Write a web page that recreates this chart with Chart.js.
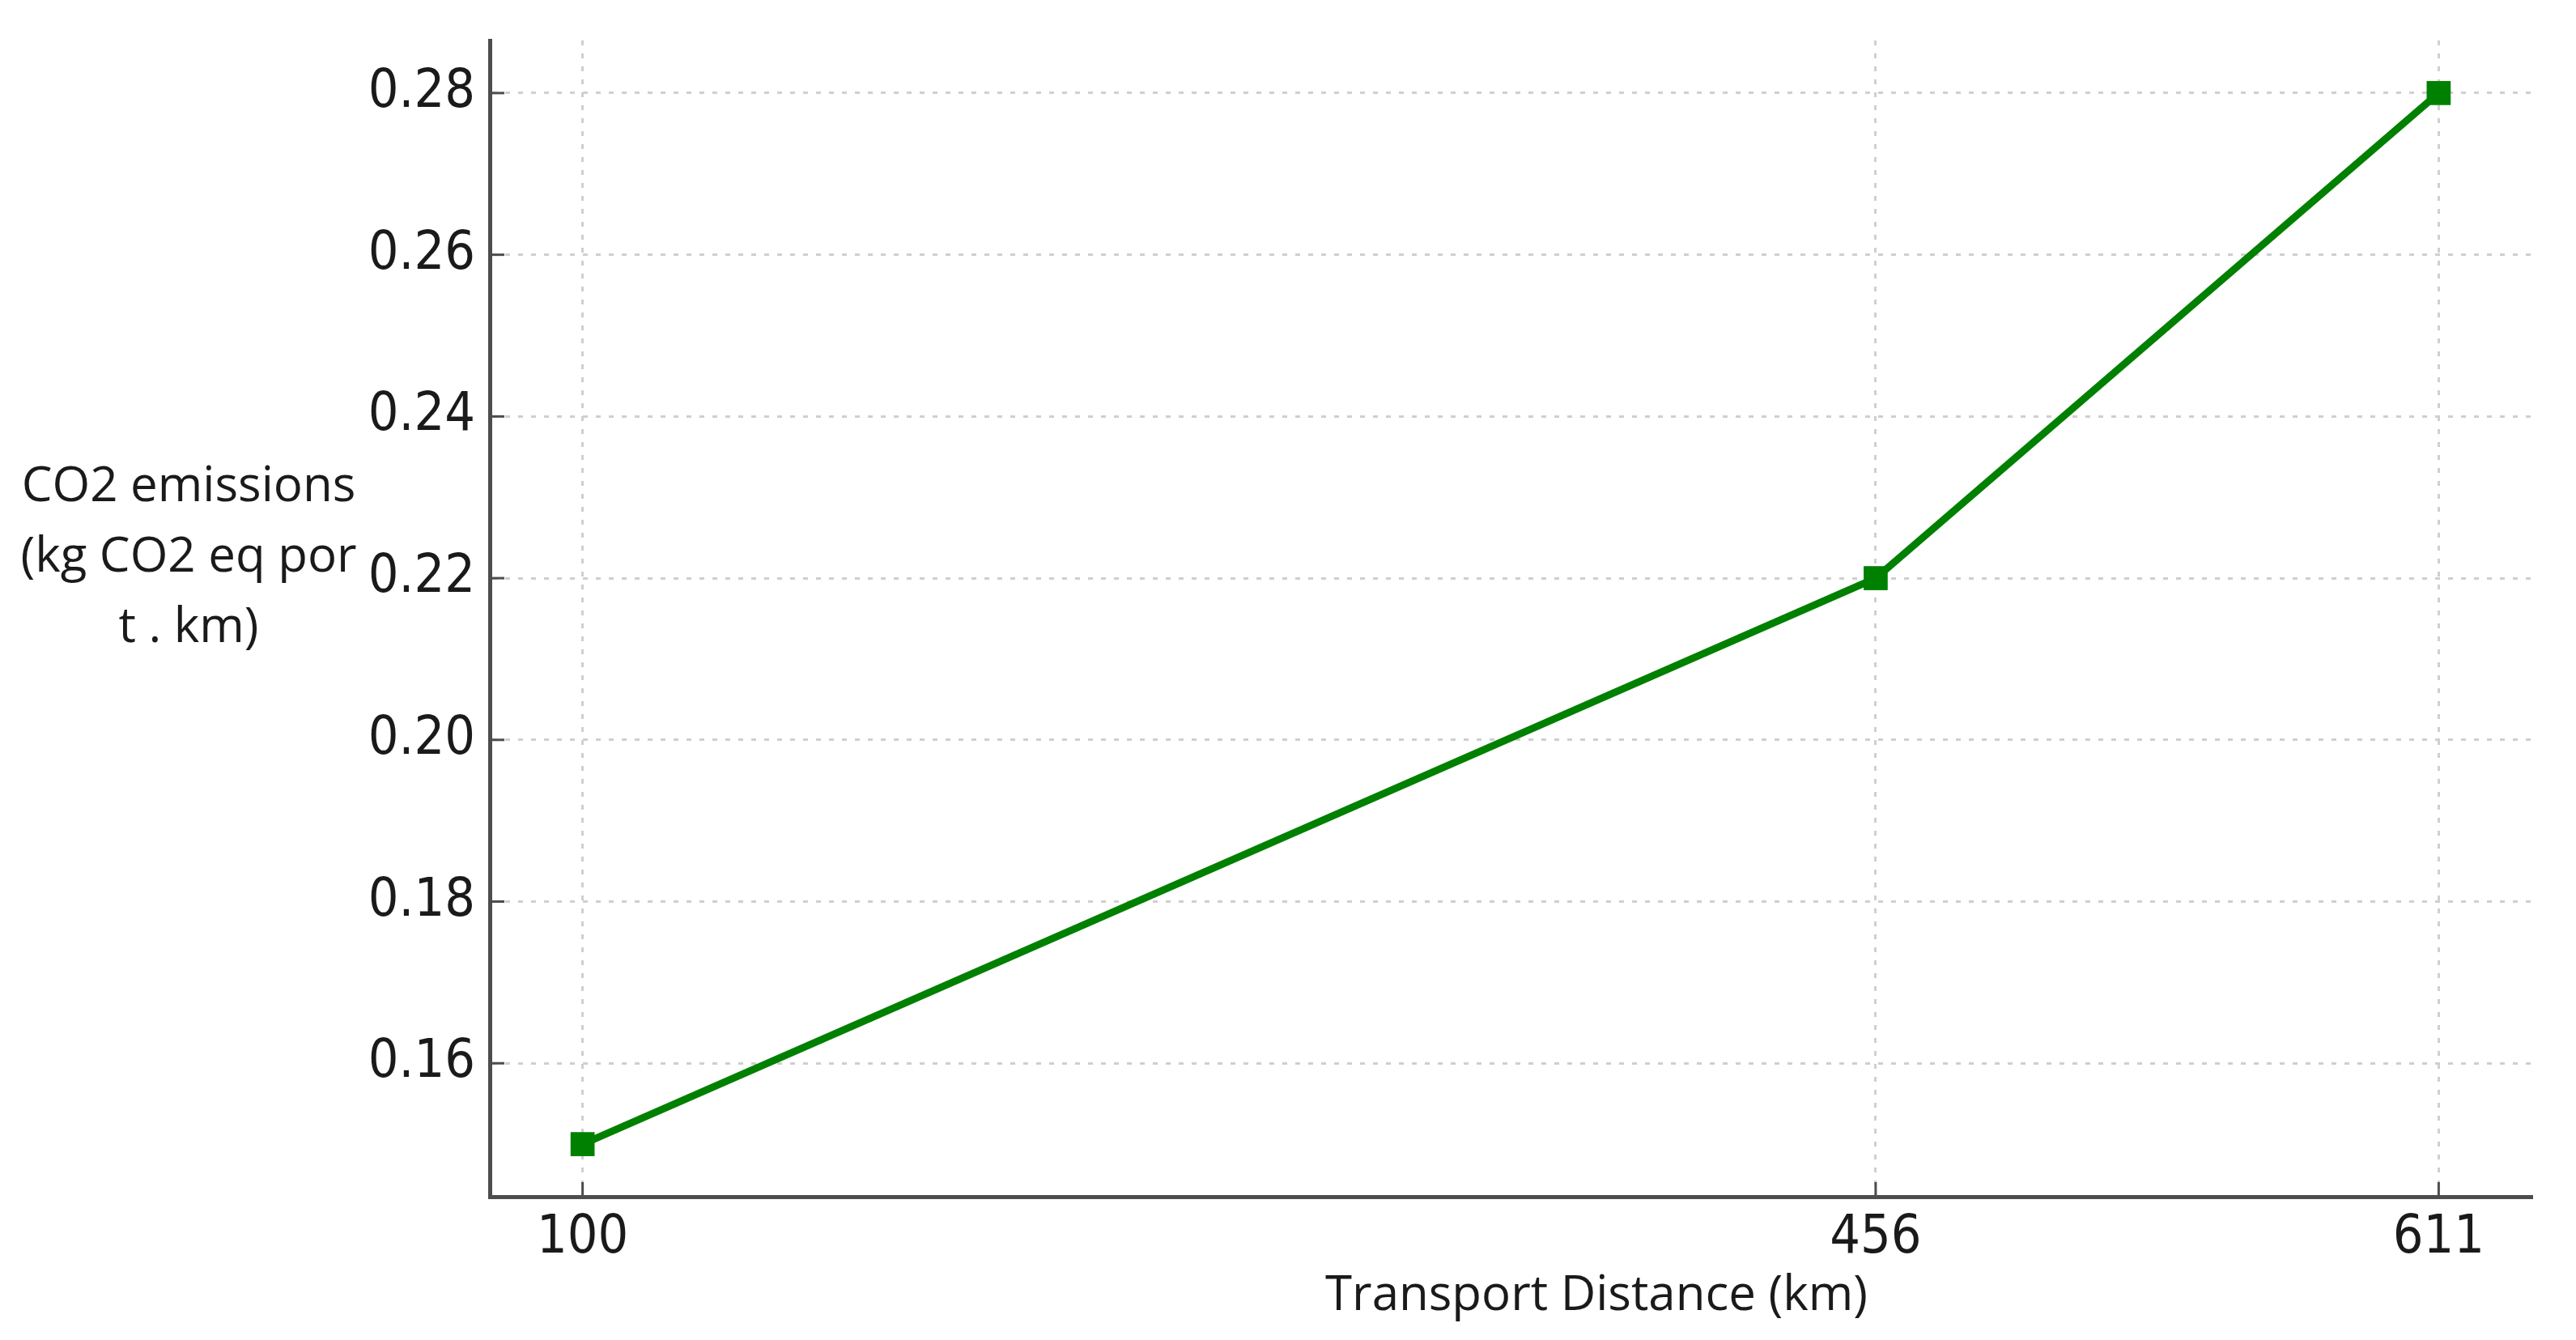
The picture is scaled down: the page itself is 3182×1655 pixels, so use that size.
<!DOCTYPE html>
<html>
<head>
<meta charset="utf-8">
<script src="https://cdn.jsdelivr.net/npm/chart.js@4"></script>
<style>
  html, body { margin: 0; padding: 0; background: #fff; }
  #wrap { width: 3182px; height: 1655px; }
</style>
</head>
<body>
<div id="wrap"><canvas id="chartCO2"></canvas></div>
<script>
// ====== Datos ======
const distancias = [100, 456, 611];          // km
const emisiones = [0.15, 0.22, 0.28];        // kg CO2 eq por t.km
const X_TICKS = [100, 456, 611];
const Y_TICKS = [0.16, 0.18, 0.20, 0.22, 0.24, 0.26, 0.28];
const Y_TITLE = ['CO2 emissions', '(kg CO2 eq por', 't . km)'];
const X_TITLE = 'Transport Distance (km)';

// ====== Estilos ======
const GREEN = '#008000';
const AXIS_COLOR = '#4d4d4d';
const GRID_COLOR = '#cfcfcf';
const TICK_FONT = { family: '"DejaVu Sans Condensed", "DejaVu Sans", sans-serif', size: 66 };
const TITLE_FONT = '60px "Open Sans", "Noto Sans", sans-serif';

// margen de 5% como el original
const xPad = (Math.max(...distancias) - Math.min(...distancias)) * 0.05;
const yPad = (Math.max(...emisiones) - Math.min(...emisiones)) * 0.05;

// ticks hacia adentro + titulos horizontales
const ejesPlugin = {
  id: 'ejesPlugin',
  afterDraw(chart) {
    const { ctx, chartArea, scales: { x, y } } = chart;
    ctx.save();
    ctx.strokeStyle = AXIS_COLOR;
    ctx.lineWidth = 3;
    X_TICKS.forEach(v => {
      const px = x.getPixelForValue(v);
      ctx.beginPath();
      ctx.moveTo(px, chartArea.bottom);
      ctx.lineTo(px, chartArea.bottom - 18);
      ctx.stroke();
    });
    Y_TICKS.forEach(v => {
      const py = y.getPixelForValue(v);
      ctx.beginPath();
      ctx.moveTo(chartArea.left, py);
      ctx.lineTo(chartArea.left + 18, py);
      ctx.stroke();
    });

    ctx.fillStyle = '#1a1a1a';
    ctx.font = TITLE_FONT;
    ctx.textAlign = 'center';
    ctx.textBaseline = 'middle';
    Y_TITLE.forEach((t, i) => ctx.fillText(t, 233, 602 + i * 87));
    ctx.fillText(X_TITLE, 1972, 1601);
    ctx.restore();
  }
};

new Chart(document.getElementById('chartCO2'), {
  type: 'line',
  data: {
    datasets: [{
      data: distancias.map((d, i) => ({ x: d, y: emisiones[i] })),
      borderColor: GREEN,
      backgroundColor: GREEN,
      borderWidth: 9,
      pointStyle: 'rect',
      pointRadius: 21,
      pointBorderWidth: 0,
      pointBackgroundColor: GREEN,
      tension: 0
    }]
  },
  options: {
    responsive: true,
    maintainAspectRatio: false,
    animation: false,
    layout: { padding: { top: 50, right: 55, left: 0, bottom: 0 } },
    plugins: {
      legend: { display: false },
      tooltip: { enabled: false }
    },
    scales: {
      x: {
        type: 'linear',
        min: Math.min(...distancias) - xPad,
        max: Math.max(...distancias) + xPad,
        afterBuildTicks: (s) => { s.ticks = X_TICKS.map(v => ({ value: v })); },
        afterFit: (s) => { s.height = 177; s.paddingLeft = 0; s.paddingRight = 0; },
        ticks: { font: TICK_FONT, color: '#1a1a1a', padding: 12, maxRotation: 0, autoSkip: false,
                 callback: (v) => String(v) },
        grid: { color: GRID_COLOR, lineWidth: 3, drawTicks: false },
        border: { display: true, color: AXIS_COLOR, width: 5, dash: [6, 10] }
      },
      y: {
        type: 'linear',
        min: Math.min(...emisiones) - yPad,
        max: Math.max(...emisiones) + yPad,
        afterBuildTicks: (s) => { s.ticks = Y_TICKS.map(v => ({ value: v })); },
        afterFit: (s) => { s.width = 605; s.paddingTop = 0; s.paddingBottom = 0; },
        ticks: { font: TICK_FONT, color: '#1a1a1a', padding: 18, autoSkip: false,
                 callback: (v) => Number(v).toFixed(2) },
        grid: { color: GRID_COLOR, lineWidth: 3, drawTicks: false },
        border: { display: true, color: AXIS_COLOR, width: 5, dash: [6, 10] }
      }
    }
  },
  plugins: [ejesPlugin]
});
</script>
</body>
</html>
